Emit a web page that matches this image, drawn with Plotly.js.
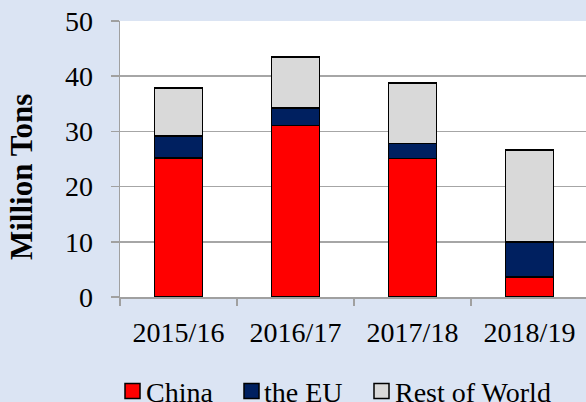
<!DOCTYPE html>
<html>
<head>
<meta charset="utf-8">
<script src="https://cdn.plot.ly/plotly-3.0.1.min.js"></script>
<style>html,body{margin:0;padding:0;overflow:hidden;background:#dbe4f3;}</style>
</head>
<body>
<div id="chart" style="width:586px;height:402px;"></div>
<script>
const categories = ['2015/16', '2016/17', '2017/18', '2018/19'];
const china = [25.2, 31.1, 25.1, 3.6];
const eu = [4.0, 3.1, 2.7, 6.4];
const rest = [8.7, 9.3, 11.0, 16.6];
const seriesNames = ['China', 'the EU', 'Rest of World'];
const seriesColors = ['#ff0000', '#002060', '#d9d9d9'];
const yTitle = 'Million Tons';

const W = 586, H = 402;
const M = {l: 120, r: 0, t: 21, b: 105};
const plotW = W - M.l - M.r, plotH = H - M.t - M.b;
const catPx = 117;
const px2x = px => (px - M.l) / plotW;
const py2y = py => (H - M.b - py) / plotH;

const FONT = 'Liberation Serif, Times New Roman, serif';
const values = [china, eu, rest];

const traces = values.map((v, i) => ({
  type: 'bar',
  name: seriesNames[i],
  x: categories,
  y: v,
  width: 0.41,
  marker: {color: seriesColors[i], line: {color: '#000000', width: 1.5}},
  showlegend: false
}));

const legendMarkerX = [125, 244, 374];
const legendTextX = [144, 262, 393];
const legendY = 391;
const shapes = seriesNames.map((n, i) => ({
  type: 'rect', xref: 'paper', yref: 'paper',
  x0: px2x(legendMarkerX[i]), x1: px2x(legendMarkerX[i] + 15),
  y0: py2y(legendY - 7.5), y1: py2y(legendY + 7.5),
  fillcolor: seriesColors[i], line: {color: '#000000', width: 1.5}
}));
const annotations = seriesNames.map((n, i) => ({
  text: n, xref: 'paper', yref: 'paper', showarrow: false,
  x: px2x(legendTextX[i]), y: py2y(legendY + 1), xanchor: 'left', yanchor: 'middle',
  font: {family: FONT, size: 28, color: '#000000'}
}));
annotations.push({
  text: yTitle, xref: 'paper', yref: 'paper', showarrow: false,
  x: px2x(21), y: py2y(177), xanchor: 'center', yanchor: 'middle', textangle: -90,
  font: {family: FONT, size: 31, color: '#000000', weight: 'bold'}
});

const layout = {
  width: W, height: H,
  margin: M,
  paper_bgcolor: '#dbe4f3',
  plot_bgcolor: '#ffffff',
  barmode: 'stack',
  showlegend: false,
  font: {family: FONT, size: 28, color: '#000000'},
  xaxis: {
    type: 'category',
    range: [-0.5, -0.5 + plotW / catPx],
    tickson: 'boundaries',
    ticks: 'outside', ticklen: 7, tickcolor: '#a0a0a0', tickwidth: 1.5,
    showline: true, linecolor: '#a0a0a0', linewidth: 1.5,
    showgrid: false,
    tickfont: {family: FONT, size: 28, color: '#000000'},
    ticklabelstandoff: 10
  },
  yaxis: {
    range: [0, 50], dtick: 10, tick0: 0,
    ticks: 'outside', ticklen: 8, tickcolor: '#a0a0a0', tickwidth: 1.5,
    showline: true, linecolor: '#a0a0a0', linewidth: 1.5,
    showgrid: true, gridcolor: '#a6a6a6', gridwidth: 1.5,
    zeroline: false,
    tickfont: {family: FONT, size: 28, color: '#000000'},
    ticklabelstandoff: 12
  },
  shapes: shapes,
  annotations: annotations
};

Plotly.newPlot('chart', traces, layout, {displayModeBar: false, staticPlot: true});
</script>
</body>
</html>
